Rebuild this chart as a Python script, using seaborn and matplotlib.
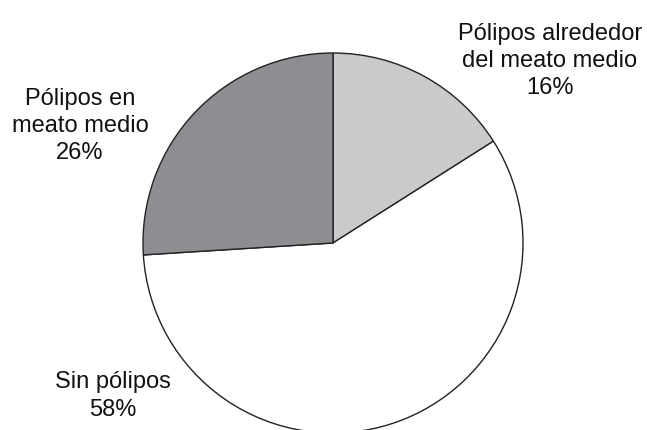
import matplotlib
matplotlib.use("Agg")
import matplotlib.pyplot as plt
import seaborn as sns

categories = ["Pólipos alrededor\ndel meato medio", "Sin pólipos", "Pólipos en\nmeato medio"]
shares = [16, 58, 26]
slice_colors = ["#c9cacc", "#ffffff", "#8d8e91"]

sns.set_theme(style="white")
plt.rcParams["font.family"] = ["Liberation Sans", "DejaVu Sans"]

W, H = 647, 431
fig = plt.figure(figsize=(W / 100, H / 100), dpi=100)
ax = fig.add_axes([0, 0, 1, 1])

cx, cy, r = 333, H - 244, 190
ax.pie(shares, colors=slice_colors, startangle=90, counterclock=False,
       center=(cx, cy), radius=r, frame=True,
       wedgeprops=dict(edgecolor="#222222", linewidth=1.0))
ax.set_xlim(0, W)
ax.set_ylim(0, H)
ax.set_aspect("equal")
ax.axis("off")

label_pos = [(550, 61), (113, 396), (80, 126)]
for name, val, (x, y) in zip(categories, shares, label_pos):
    ax.text(x, H - y, f"{name}\n{val}%", ha="center", va="center",
            fontsize=17, color="#111111", linespacing=1.3)

fig.savefig("out.png", dpi=100)
